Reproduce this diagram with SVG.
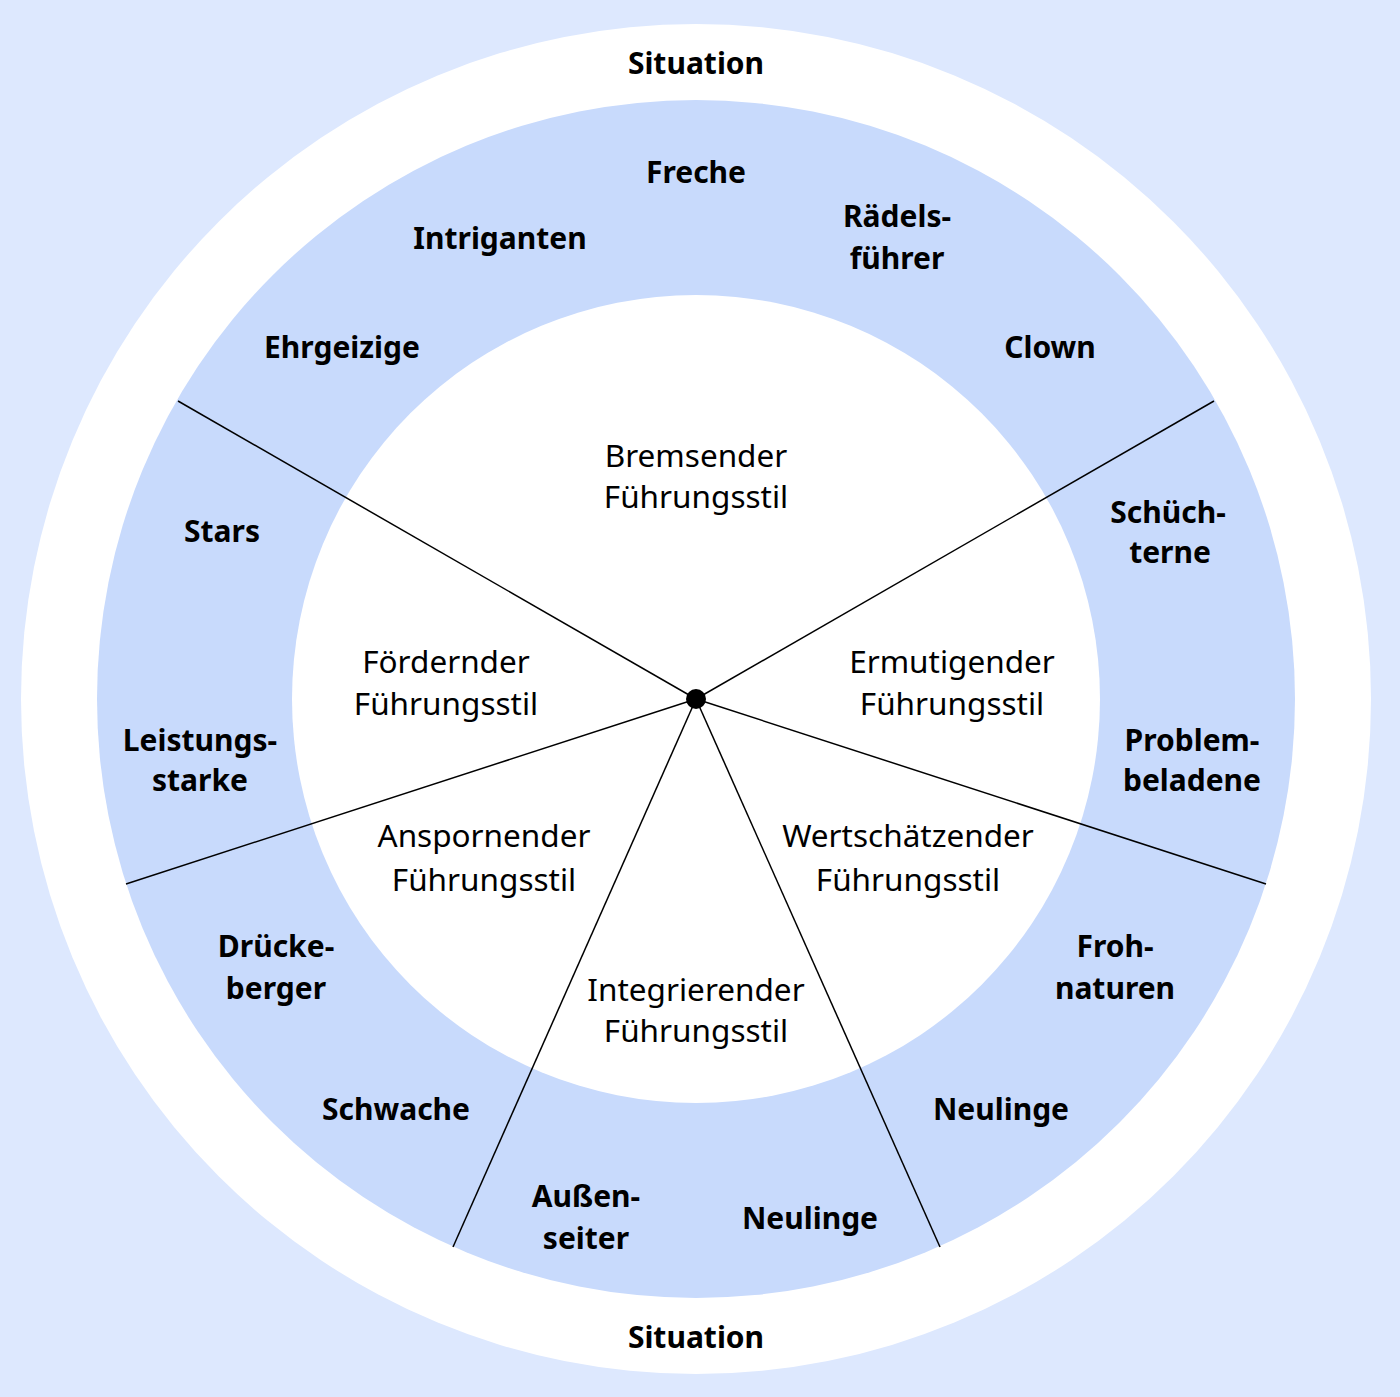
<svg xmlns="http://www.w3.org/2000/svg" width="1400" height="1397" viewBox="0 0 1400 1397">
<style>
.b{font-family:"Noto Sans","Open Sans","Liberation Sans",sans-serif;font-weight:bold;font-size:30px;fill:#000;text-anchor:middle}
.r{font-family:"Noto Sans","Open Sans","Liberation Sans",sans-serif;font-size:31.5px;fill:#000;text-anchor:middle}
.ln{stroke:#000;stroke-width:1.5;fill:none}
</style>
<rect x="0" y="0" width="1400" height="1397" fill="#dde8fe"/>
<circle cx="696" cy="699" r="675" fill="#fff"/>
<circle cx="696" cy="699" r="599" fill="#c8dafc"/>
<circle cx="696" cy="699" r="404" fill="#fff"/>
<g id="connectors">
<line class="ln" x1="696" y1="699" x2="178" y2="401"/>
<line class="ln" x1="696" y1="699" x2="1214" y2="401"/>
<line class="ln" x1="696" y1="699" x2="126" y2="884"/>
<line class="ln" x1="696" y1="699" x2="1266" y2="884"/>
<line class="ln" x1="696" y1="699" x2="453" y2="1247"/>
<line class="ln" x1="696" y1="699" x2="940" y2="1247"/>
</g>
<g id="center"><circle cx="696" cy="699" r="10" fill="#000"/></g>
<g id="situation-top"><text class="b" x="696" y="74">Situation</text></g>
<g id="situation-bottom"><text class="b" x="696" y="1348">Situation</text></g>
<g id="bremsend"><text class="r" x="696" y="467">Bremsender</text><text class="r" x="696" y="508">Führungsstil</text></g>
<g id="foerdernd"><text class="r" x="446" y="673">Fördernder</text><text class="r" x="446" y="715">Führungsstil</text></g>
<g id="ermutigend"><text class="r" x="952" y="673">Ermutigender</text><text class="r" x="952" y="715">Führungsstil</text></g>
<g id="anspornend"><text class="r" x="484" y="847">Anspornender</text><text class="r" x="484" y="891">Führungsstil</text></g>
<g id="wertschaetzend"><text class="r" x="908" y="847">Wertschätzender</text><text class="r" x="908" y="891">Führungsstil</text></g>
<g id="integrierend"><text class="r" x="696" y="1001">Integrierender</text><text class="r" x="696" y="1042">Führungsstil</text></g>
<g id="freche"><text class="b" x="696" y="183">Freche</text></g>
<g id="intriganten"><text class="b" x="500" y="249">Intriganten</text></g>
<g id="raedelsfuehrer"><text class="b" x="897" y="227">Rädels-</text><text class="b" x="897" y="269">führer</text></g>
<g id="ehrgeizige"><text class="b" x="342" y="358">Ehrgeizige</text></g>
<g id="clown"><text class="b" x="1050" y="358">Clown</text></g>
<g id="schuechterne"><text class="b" x="1168" y="523">Schüch-</text><text class="b" x="1170" y="563">terne</text></g>
<g id="stars"><text class="b" x="222" y="542">Stars</text></g>
<g id="leistungsstarke"><text class="b" x="200" y="751">Leistungs-</text><text class="b" x="200" y="791">starke</text></g>
<g id="problembeladene"><text class="b" x="1192" y="751">Problem-</text><text class="b" x="1192" y="791">beladene</text></g>
<g id="drueckeberger"><text class="b" x="276" y="957">Drücke-</text><text class="b" x="276" y="999">berger</text></g>
<g id="frohnaturen"><text class="b" x="1115" y="957">Froh-</text><text class="b" x="1115" y="999">naturen</text></g>
<g id="schwache"><text class="b" x="396" y="1120">Schwache</text></g>
<g id="neulinge1"><text class="b" x="1001" y="1120">Neulinge</text></g>
<g id="aussenseiter"><text class="b" x="586" y="1207">Außen-</text><text class="b" x="586" y="1249">seiter</text></g>
<g id="neulinge2"><text class="b" x="810" y="1229">Neulinge</text></g>
</svg>
